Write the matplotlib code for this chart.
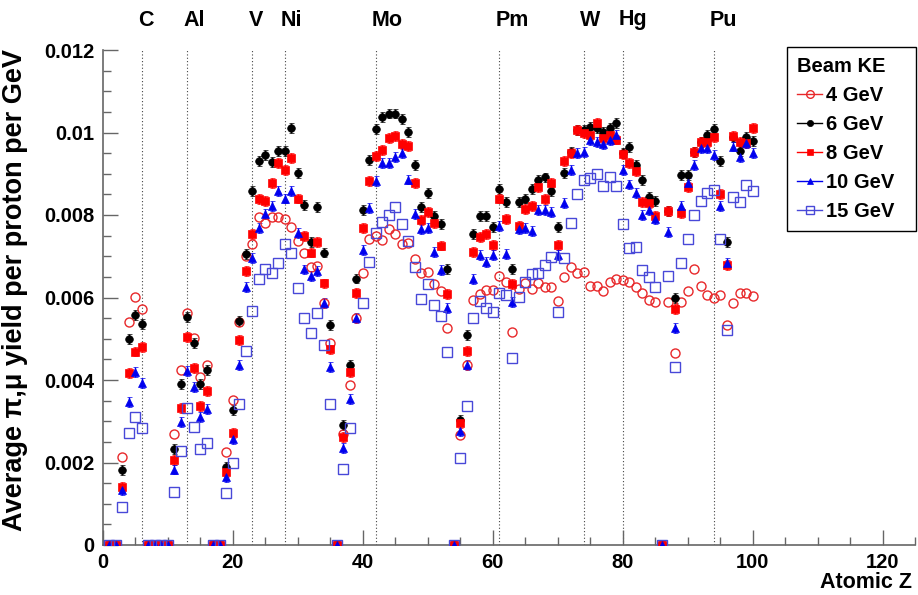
import numpy as np
import matplotlib
matplotlib.use('Agg')
import matplotlib.pyplot as plt
from matplotlib.lines import Line2D

plt.rcParams['font.family'] = ['Liberation Sans', 'DejaVu Sans']
plt.rcParams['font.weight'] = 'bold'

# atomic number of the target
Z = np.arange(1, 101)
nan = np.nan

# average pi,mu yield per proton per GeV
y4 = [0, 0, .00213, .0054, .00602, .00572, 0, 0, 0, 0,
      .00268, .00424, .00562, .00501, .00408, .00436, 0, 0, .00226, .00351,
      .0054, .0070, .00729, .00794, .0078, .00796, .00796, .0079, .00772, .00737,
      .00709, .00675, .00676, .00587, .0049, 0, .0027, .00388, .0055, .00659,
      .00741, .0075, .00739, .00765, .00753, .0073, .00733, .00693, .0066, .00663,
      .00632, .00616, .00525, 0, .00267, .00436, .00594, .00608, .00618, .00618,
      .00652, .00638, .00516, .0062, .00636, .0062, .00634, .00626, .00625, .00592,
      .0065, .00675, .0066, .00663, .00628, .00628, .00616, .00638, .00646, .00642,
      .00638, .00626, .00612, .00594, .00588, 0, .0059, .00465, .0059, .00616,
      .00668, .00628, .00606, .00598, .00606, .00533, .00586, .00612, .00612, .00604]
y6 = [0, 0, .00181, .00499, .00558, .00535, 0, 0, 0, 0,
      .00232, .0039, .00552, .00489, .0039, .00424, 0, 0, .0019, .00327,
      .00544, .00705, .00858, .00932, .00945, .00929, .00955, .00955, .0101, .00901,
      .00824, .00735, .0082, .00709, .00533, 0, .00291, .00436, .00646, .00812,
      .00933, .01008, .01038, .01046, .01046, .01032, .01002, .00921, .00819, .00853,
      .00798, .00778, .00669, 0, .00303, .00509, .00754, .00798, .00798, .00772,
      .00862, .00832, .0067, .00832, .0084, .00862, .00885, .00891, .00857, .0077,
      .00901, .00953, .01006, .01006, .01014, .0101, .01002, .0101, .01024, .0095,
      .00965, .00922, .00884, .00843, .00833, 0, .0081, .00598, .00897, .00897,
      .00953, .00978, .00994, .01008, .00932, .00735, .00988, .00955, .0099, .0098]
y8 = [0, 0, .00141, .00417, .00469, .00479, 0, 0, 0, 0,
      .00205, .00333, .00505, .0043, .00337, .00374, 0, 0, .00178, .00272,
      .00497, .00664, .00753, .00838, .00835, .00878, .00927, .00909, .00939, .0084,
      .00749, .00709, .00735, .00634, .00474, 0, .00262, .0042, .0061, .00768,
      .00883, .00943, .00957, .00986, .00991, .00972, .00967, .00878, .00788, .00808,
      .00781, .00726, .00608, 0, .00295, .00471, .00711, .00747, .00754, .00727,
      .0084, .0079, .00633, .00773, .00814, .00822, .00867, .00838, .00877, .00727,
      .00931, .00951, .01006, .00998, .00994, .01022, .00986, .00994, .00983, .00947,
      .00927, .00906, .00832, .0083, .00797, 0, .0081, .00572, .00804, .00867,
      .00953, .00978, .00976, .00988, .00852, .00679, .00991, .00976, .00974, .0101]
y10 = [0, 0, .00133, .00346, .00419, .00392, 0, 0, 0, 0,
       .00183, .00299, .00422, .00384, .00311, .00329, 0, 0, .00164, .00256,
       .00436, .00626, .00696, .00769, .00802, .00822, .00859, .0084, .00859, .00756,
       .00668, .00652, .00664, .00587, .00431, 0, .00236, .00353, .0055, .00715,
       .00816, .00883, .00927, .00927, .00941, .00951, .00886, .00802, .00765, .00768,
       .00711, .00667, .00574, 0, .00277, .00436, .00644, .00703, .00687, .00703,
       .00773, .00705, .0059, .00765, .00768, .00762, .00812, .00812, .00808, .00703,
       .0083, .00909, .0095, .00953, .00982, .00978, .00972, .00982, .00994, .00909,
       .00874, .00853, .008, .00812, .0079, 0, .00759, .00525, .00822, .00877,
       .00921, .00962, .00962, .00946, .00822, .00683, .00966, .00941, .00974, .0095]
y15 = [0, 0, .00092, .00271, .00311, .00283, 0, 0, 0, 0,
       .00129, .00228, .00331, .00287, .00233, .00248, 0, 0, .00127, .002,
       .00343, .0047, .00568, .00644, .00668, .00659, .00684, .00729, .00709, .00624,
       .00551, .00513, .00563, .00485, .00341, 0, .00184, .00283, nan, .00586,
       .00687, .00756, .00784, .008, .0082, .00777, .00737, .00675, .00596, .00632,
       .00582, .00555, .00469, 0, .00212, .00337, .0055, .00592, .00574, .00566,
       .00612, .00606, .00454, .00602, .00638, .00657, .00659, .00679, .00699, .00564,
       .00696, .00781, .00851, .00885, .00889, .00899, .0087, .00893, .0087, .00778,
       .00719, .00723, .00666, .00649, .00626, 0, .00652, .00432, .00684, .00743,
       .008, .00834, .00854, .00861, .00743, .00521, .00844, .00832, .00872, .00857]

# marked elements along the top
elements = ['C', 'Al', 'V', 'Ni', 'Mo', 'Pm', 'W', 'Hg', 'Pu']
elem_z = [6, 13, 23, 28, 42, 61, 74, 80, 94]

y_ticks = [0, 0.002, 0.004, 0.006, 0.008, 0.01, 0.012]
y_ticklabels = ['0', '0.002', '0.004', '0.006', '0.008', '0.01', '0.012']
x_ticks = [0, 20, 40, 60, 80, 100, 120]

series = [
    (y4, '4 GeV', dict(marker='o', color='#e8282a', mfc='none', ms=6.5, mew=1.0), False),
    (y6, '6 GeV', dict(marker='o', color='black', mfc='black', ms=5.5, mew=0.5), True),
    (y8, '8 GeV', dict(marker='s', color='#ff0000', mfc='#ff0000', ms=5.5, mew=0.5), True),
    (y10, '10 GeV', dict(marker='^', color='#0000ee', mfc='#0000ee', ms=5.5, mew=0.5), True),
    (y15, '15 GeV', dict(marker='s', color='#4848d8', mfc='none', ms=7, mew=1.0), False),
]

fig = plt.figure(figsize=(9.18, 5.95), dpi=100)
ax = fig.add_axes([103/918, 50/595, 812/918, 495/595])

# dotted guide lines at the marked elements
for z in elem_z:
    ax.axvline(z, color='#444444', ls=(0, (1, 2)), lw=0.8, zorder=1)

handles = []
for y, lab, st, has_err in series:
    yerr = 0.00012 if has_err else None
    ax.errorbar(Z, y, yerr=yerr, fmt=st['marker'], color=st['color'],
                mfc=st['mfc'], mec=st['color'], ms=st['ms'], mew=st['mew'],
                elinewidth=1, capsize=1.8, capthick=1, zorder=3)
    handles.append(Line2D([], [], color=st['color'], lw=1, marker=st['marker'],
                          mfc=st['mfc'], mec=st['color'], ms=st['ms'] - 1, mew=st['mew']))

ax.set_xlim(0, 125)
ax.set_ylim(0, 0.012)
ax.set_xticks(x_ticks)
ax.set_xticks(np.arange(0, 126, 5), minor=True)
ax.set_yticks(y_ticks)
ax.set_yticklabels(y_ticklabels)
ax.set_yticks(np.arange(0, 0.01201, 0.0005), minor=True)

for s in ['top', 'right']:
    ax.spines[s].set_visible(False)
for s in ['left', 'bottom']:
    ax.spines[s].set_color('#666666')
    ax.spines[s].set_linewidth(1.2)
ax.tick_params(which='both', direction='in', color='#666666', width=1)
ax.tick_params(which='major', length=11, labelsize=14.5, pad=6)
ax.tick_params(which='minor', length=5.5)
for t in ax.get_xticklabels() + ax.get_yticklabels():
    t.set_fontweight('bold')

# element names above the frame
for name, z in zip(elements, elem_z):
    x = ax.transData.transform((z, 0))[0] / fig.dpi / 9.18
    fig.text(x - 4/918, 1 - 20/595, name, ha='left', va='center',
             fontsize=15.5, fontweight='bold')

fig.text(912/918, 1 - 583/595, 'Atomic Z', ha='right', va='center',
         fontsize=15.5, fontweight='bold')
fig.text(15/918, 1 - 49/595, 'Average π,μ yield per proton per GeV', rotation=90,
         ha='center', va='top', fontsize=19.5, fontweight='bold')

# legend box sized like the ROOT one
leg = ax.legend(handles, [s[1] for s in series], title='Beam KE',
                loc='upper left', mode='expand',
                bbox_to_anchor=(787/918, 1 - 235/595, 129/918, 188/595),
                bbox_transform=fig.transFigure, frameon=True, fancybox=False,
                framealpha=1, edgecolor='black', fontsize=14.5,
                title_fontproperties={'weight': 'bold', 'size': 14.5},
                handlelength=1.25, handletextpad=0.2, labelspacing=0.5,
                borderpad=0.5, borderaxespad=0, alignment='left')
leg.get_frame().set_linewidth(1)
for t in leg.get_texts():
    t.set_fontweight('bold')

plt.savefig('out.png', dpi=100)
